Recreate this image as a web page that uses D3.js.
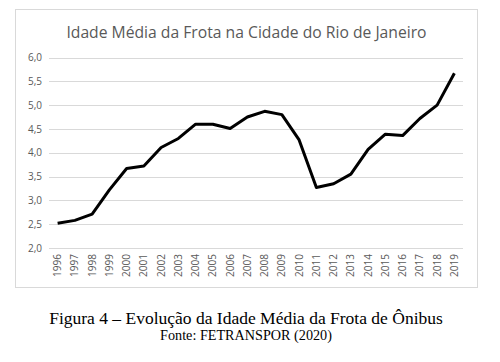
<!DOCTYPE html>
<html>
<head>
<meta charset="utf-8">
<script src="https://cdn.jsdelivr.net/npm/d3@7"></script>
<style>
  body { margin: 0; background: #fff; }
</style>
</head>
<body>
<div id="chart"></div>
<script>
// idade media da frota de onibus, Rio de Janeiro
var w = 500, h = 362;
var years = ["1996", "1997", "1998", "1999", "2000", "2001", "2002", "2003", "2004", "2005", "2006", "2007",
             "2008", "2009", "2010", "2011", "2012", "2013", "2014", "2015", "2016", "2017", "2018", "2019"];
var idade = [2.52, 2.58, 2.71, 3.22, 3.67, 3.72, 4.11, 4.30, 4.60, 4.60, 4.51, 4.75,
             4.87, 4.80, 4.27, 3.27, 3.35, 3.55, 4.07, 4.39, 4.36, 4.72, 5.00, 5.67];
var yTicks = [2.0, 2.5, 3.0, 3.5, 4.0, 4.5, 5.0, 5.5, 6.0];

var titulo = "Idade Média da Frota na Cidade do Rio de Janeiro";
var legenda = "Figura 4 – Evolução da Idade Média da Frota de Ônibus";
var fonte = "Fonte: FETRANSPOR (2020)";

var svg = d3.select("#chart")
    .append("svg")
    .attr("width", w)
    .attr("height", h);

// moldura do grafico
svg.append("rect")
    .attr("x", 15.5).attr("y", 9.5)
    .attr("width", 462).attr("height", 278)
    .attr("fill", "#fff")
    .attr("stroke", "#d9d9d9");

svg.append("text")
    .attr("x", 246.5).attr("y", 38)
    .attr("text-anchor", "middle")
    .style("font-family", "'Open Sans', sans-serif")
    .style("font-size", "15.7px")
    .style("fill", "#595959")
    .text(titulo);

var x = d3.scaleBand().domain(years).range([49, 463]);
var y = d3.scaleLinear().domain([2, 6]).range([248, 57.5]);

// grade
svg.append("g")
    .selectAll("line")
    .data(yTicks)
    .enter()
    .append("line")
    .attr("x1", 49).attr("x2", 463)
    .attr("y1", function(d) { return Math.round(y(d)) + 0.5; })
    .attr("y2", function(d) { return Math.round(y(d)) + 0.5; })
    .attr("stroke", "#d9d9d9");

var fmt = function(d) { return d3.format(".1f")(d).replace(".", ","); };

var yAxis = svg.append("g")
    .attr("transform", "translate(42,0)")
    .call(d3.axisLeft(y).tickValues(yTicks).tickFormat(fmt).tickSize(0).tickPadding(0));
yAxis.select(".domain").remove();
yAxis.selectAll("text")
    .style("font-family", "'Open Sans', sans-serif")
    .style("font-size", "10px")
    .style("fill", "#595959");

var xAxis = svg.append("g")
    .attr("transform", "translate(0,254)")
    .call(d3.axisBottom(x).tickSize(0).tickPadding(0));
xAxis.select(".domain").remove();
xAxis.selectAll("text")
    .attr("transform", "rotate(-90)")
    .attr("x", 0).attr("y", 0)
    .attr("dx", "0").attr("dy", "0.35em")
    .style("text-anchor", "end")
    .style("font-family", "'Open Sans', sans-serif")
    .style("font-size", "10px")
    .style("fill", "#595959");

var line = d3.line()
    .x(function(d, i) { return x(years[i]) + x.bandwidth() / 2; })
    .y(function(d) { return y(d); });

svg.append("path")
    .datum(idade)
    .attr("d", line)
    .attr("fill", "none")
    .attr("stroke", "#000")
    .attr("stroke-width", 3)
    .attr("stroke-linejoin", "round");

svg.append("text")
    .attr("x", 246).attr("y", 324)
    .attr("text-anchor", "middle")
    .style("font-family", "'Liberation Serif', serif")
    .style("font-size", "17.5px")
    .style("fill", "#000")
    .text(legenda);

svg.append("text")
    .attr("x", 246).attr("y", 340)
    .attr("text-anchor", "middle")
    .style("font-family", "'Liberation Serif', serif")
    .style("font-size", "14.2px")
    .style("fill", "#000")
    .text(fonte);
</script>
</body>
</html>
